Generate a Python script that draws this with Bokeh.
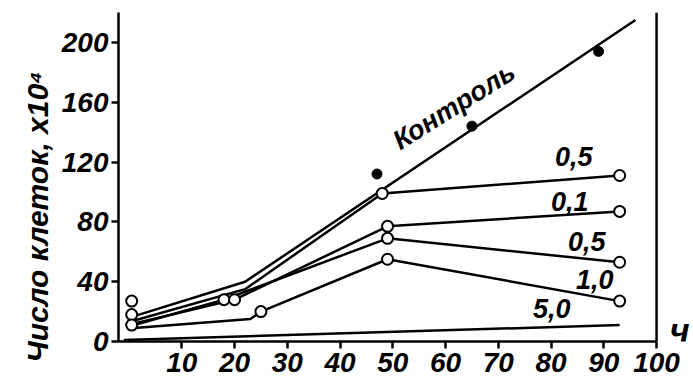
from bokeh.plotting import figure
from bokeh.models import Range1d, Label, FixedTicker, Span, Title
from bokeh.embed import file_html
from bokeh.resources import INLINE

# ---- data ----
hour_ticks = [10, 20, 30, 40, 50, 60, 70, 80, 90, 100]
count_ticks = [0, 40, 80, 120, 160, 200]

control_line_t = [1, 22, 96]
control_line_n = [17, 40, 215]
control_dot_t = [47, 65, 89]
control_dot_n = [112, 144, 194]

dose_names = ["0,5", "0,1", "0,5", "1,0", "5,0"]
dose_t = [
    [1, 22, 48, 93],
    [1, 20, 49, 93],
    [1, 18, 49, 93],
    [1, 23, 25, 49, 93],
    [-1, 93],
]
dose_n = [
    [14, 35, 99, 111],
    [12, 28, 77, 87],
    [11, 28, 69, 53],
    [9, 15, 20, 55, 27],
    [1, 11],
]
open_t = [0.5, 0.5, 0.5, 18, 20, 25, 48, 49, 49, 49, 93, 93, 93, 93]
open_n = [27, 18, 11, 28, 28, 20, 99, 77, 69, 55, 111, 87, 53, 27]

# label placement (screen px offsets from each series' last point)
dose_label_offsets = [(-46, 19), (-50, 10), (-33, 21), (-25, 22), (-68, 17)]

FONT = "Liberation Sans"
LW = 2.5

p = figure(width=693, height=385, output_backend="svg", toolbar_location=None,
           x_range=Range1d(-2, 107), y_range=Range1d(0, 220),
           min_border_left=118, min_border_right=0,
           min_border_top=12, min_border_bottom=44)
p.outline_line_color = None
p.xgrid.visible = False
p.ygrid.visible = False

for ax in (p.xaxis[0], p.yaxis[0]):
    ax.axis_line_width = LW
    ax.major_tick_line_width = LW
    ax.major_tick_in = 0
    ax.major_tick_out = 7
    ax.minor_tick_line_color = None
    ax.major_label_text_font = FONT
    ax.major_label_text_font_style = "bold italic"
    ax.major_label_text_font_size = "28px"
    ax.major_label_text_color = "black"
p.xaxis.ticker = FixedTicker(ticks=hour_ticks)
p.xaxis.bounds = (-2, 100)
p.yaxis.ticker = FixedTicker(ticks=count_ticks)
p.xaxis.major_label_standoff = 4
p.yaxis.major_label_standoff = 3

# y-axis title as a left-side title (lets it be shifted along the axis)
p.add_layout(Title(text="Число клеток, х10⁴", align="left", offset=-21,
                   text_font=FONT, text_font_style="bold italic",
                   text_font_size="30px", text_color="black",
                   standoff=10), "left")

# right-hand frame line at 100 h
p.add_layout(Span(location=100, dimension="height", line_color="black",
                  line_width=LW))

# control
p.line(control_line_t, control_line_n, line_width=LW, line_color="black")
p.scatter(control_dot_t, control_dot_n, marker="circle", size=10,
          fill_color="black", line_color="black")

# dose series
for t, n in zip(dose_t, dose_n):
    p.line(t, n, line_width=LW, line_color="black")
p.scatter(open_t, open_n, marker="circle", size=11, fill_color="white",
          line_color="black", line_width=2)

for name, t, n, (dx, dy) in zip(dose_names, dose_t, dose_n, dose_label_offsets):
    p.add_layout(Label(x=t[-1], y=n[-1], x_offset=dx, y_offset=dy, text=name,
                       text_font=FONT, text_font_style="bold italic",
                       text_font_size="27px", text_align="center",
                       text_baseline="middle", text_color="black"))

p.add_layout(Label(x=control_dot_t[1], y=control_dot_n[1], x_offset=-18, y_offset=20,
                   text="Контроль", angle=0.56, text_font=FONT,
                   text_font_style="bold italic", text_font_size="27px",
                   text_align="center", text_baseline="middle",
                   text_color="black"))

# x-axis unit, next to the corner at 100 h
p.add_layout(Label(x=100, y=0, x_offset=23, y_offset=12, text="ч",
                   text_font=FONT, text_font_style="bold italic",
                   text_font_size="34px", text_align="center",
                   text_baseline="middle", text_color="black"))

open("out.html", "w").write(file_html(p, INLINE))
